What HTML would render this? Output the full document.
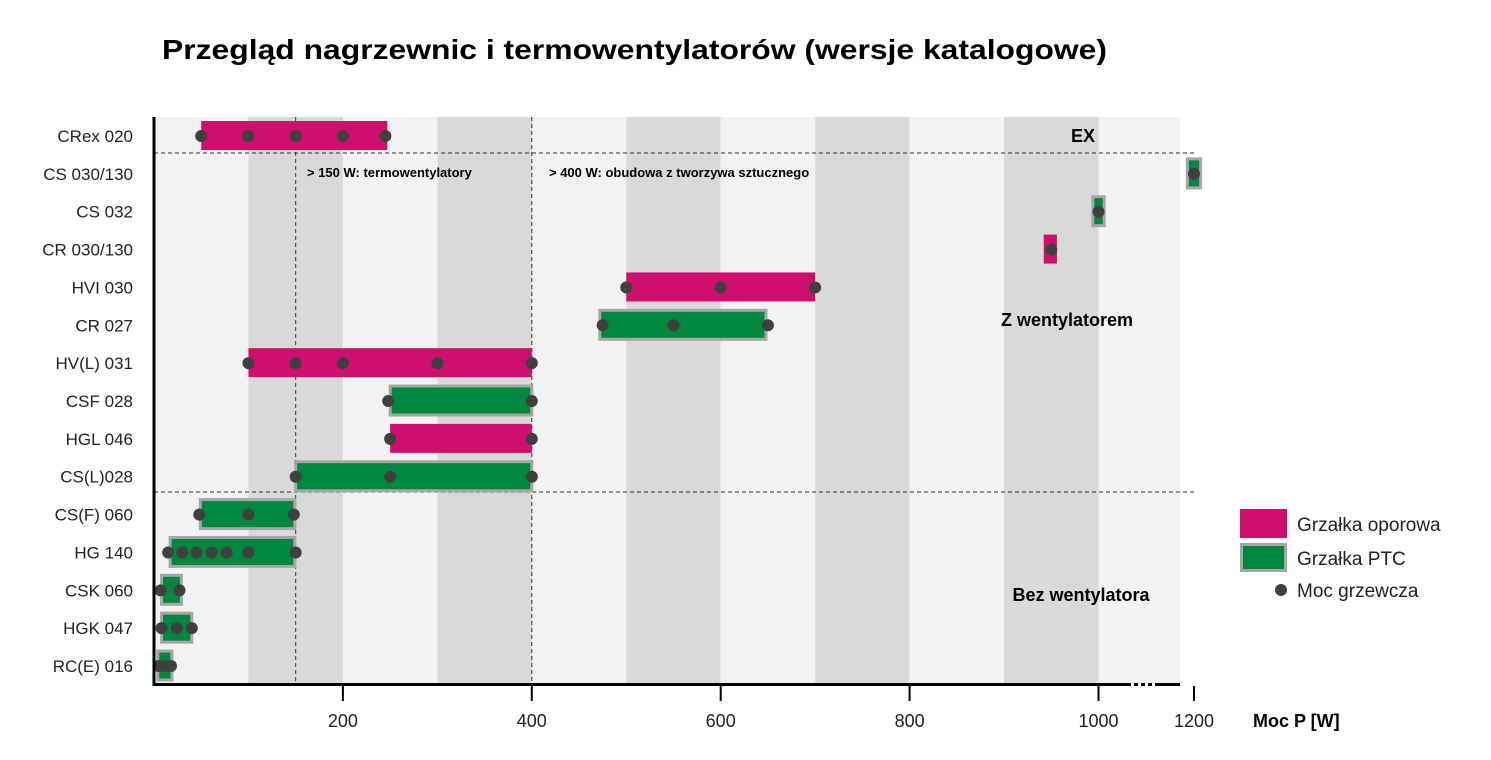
<!DOCTYPE html>
<html><head><meta charset="utf-8"><style>
body{margin:0;background:#fff;}
svg{display:block;font-family:"Liberation Sans",sans-serif;}
</style></head><body>
<svg id="c" width="1491" height="760" xmlns="http://www.w3.org/2000/svg">
<text x="162" y="59" font-size="28" font-weight="bold" textLength="945" lengthAdjust="spacingAndGlyphs">Przegląd nagrzewnic i termowentylatorów (wersje katalogowe)</text>
<g id="bands"></g><g id="grid"></g><g id="bars"></g><g id="axes"></g>
</svg>
<script>
const categories=["CRex 020","CS 030/130","CS 032","CR 030/130","HVI 030","CR 027","HV(L) 031","CSF 028","HGL 046","CS(L)028","CS(F) 060","HG 140","CSK 060","HGK 047","RC(E) 016"];
const heaterType=["oporowa","ptc","ptc","oporowa","oporowa","ptc","oporowa","ptc","oporowa","ptc","ptc","ptc","ptc","ptc","ptc"];
const barStart=[50,1193,994,942,500,472,100,250,250,150,49,17,8,8,4];
const barEnd=[247,1207,1006,956,700,648,400,400,400,400,149,149,29,40,19];
const powerPoints=[[50,100,150,200,245],[1200],[1000],[950],[500,600,700],[475,550,650],[100,150,200,300,400],[248,400],[250,400],[150,250,400],[48,100,148],[15,30,45,61,77,100,150],[7,27],[8,24,40],[5,12,18]];
const tickValues=[200,400,600,800,1000,1200];
const NS="http://www.w3.org/2000/svg";
const svg=document.getElementById('c');
function x(v){return v>1100?1194+(v-1200)*0.9445:154+v*0.9445;}
function y(i){return 136+i*37.86;}
function el(tag,attrs,parent){const e=document.createElementNS(NS,tag);for(const k in attrs)e.setAttribute(k,attrs[k]);(parent||svg).appendChild(e);return e;}
const bands=document.getElementById('bands');
for(let b=0;b<11;b++){const x0=x(b*100),x1=b==10?1180:x(b*100+100);
const r=el('rect',{x:x0,y:117,width:x1-x0,height:567,fill:b%2?'#d9d9d9':'#f2f2f2'},bands);

}
const grid=document.getElementById('grid');
[150,400].forEach(v=>{const l=el('line',{x1:x(v),x2:x(v),y1:117,y2:684,stroke:'#333','stroke-width':1,'stroke-dasharray':'4,3'},grid);
});
[153,492].forEach((yy,k)=>{const l=el('line',{x1:154,x2:1196,y1:yy,y2:yy,stroke:'#333','stroke-width':1,'stroke-dasharray':'4,3'},grid);
});
const bars=document.getElementById('bars');
categories.forEach((c,i)=>{
const t=el('text',{x:133,y:y(i)+6,'font-size':17,'text-anchor':'end',fill:'#222'});t.textContent=c;

const ptc=heaterType[i]=='ptc';
const r=el('rect',{x:x(barStart[i]),y:y(i)-15,width:x(barEnd[i])-x(barStart[i]),height:29,fill:ptc?'#00883f':'#cf0f6e',stroke:ptc?'#a6a6a6':'none','stroke-width':ptc?3:0},bars);

powerPoints[i].forEach(p=>{const d=el('circle',{cx:x(p),cy:y(i),r:6,fill:'#404040'},bars);
});
});
const ax=document.getElementById('axes');
el('line',{x1:154,x2:154,y1:117,y2:686,stroke:'#000','stroke-width':3},ax);
el('line',{x1:153,x2:1127,y1:684.5,y2:684.5,stroke:'#000','stroke-width':3},ax);
el('line',{x1:1127,x2:1156,y1:684.5,y2:684.5,stroke:'#000','stroke-width':3,'stroke-dasharray':'4,3'},ax);
el('line',{x1:1156,x2:1180,y1:684.5,y2:684.5,stroke:'#000','stroke-width':3},ax);
tickValues.forEach(v=>{const l=el('line',{x1:x(v),x2:x(v),y1:686,y2:701,stroke:'#000','stroke-width':2},ax);

const t=el('text',{x:x(v),y:727,'font-size':18,'text-anchor':'middle',fill:'#222'},ax);t.textContent=v;
});
function txt(s,xx,yy,fs,name,anchor){const t=el('text',{x:xx,y:yy,'font-size':fs,'font-weight':'bold','text-anchor':anchor||'start'},ax);t.textContent=s;
}
txt('Moc P [W]',1253,727,18,'x-axis-title');
txt('EX',1083,142,18,'group-label-ex','middle');
txt('> 150 W: termowentylatory',307,177,13,'annotation-150w');
txt('> 400 W: obudowa z tworzywa sztucznego',549,177,13,'annotation-400w');
txt('Z wentylatorem',1067,326,18,'group-label-z-wentylatorem','middle');
txt('Bez wentylatora',1081,601,18,'group-label-bez-wentylatora','middle');
const lg=el('g',{},svg);
el('rect',{x:1240,y:509,width:47,height:29,fill:'#cf0f6e'},lg);
el('rect',{x:1241.5,y:544.5,width:44,height:26,fill:'#00883f',stroke:'#a6a6a6','stroke-width':3},lg);
el('circle',{cx:1281,cy:590,r:6,fill:'#404040'},lg);
[['Grzałka oporowa',531],['Grzałka PTC',565],['Moc grzewcza',597]].forEach(a=>{const t=el('text',{x:1297,y:a[1],'font-size':19,fill:'#222'},lg);t.textContent=a[0];
});
</script>
</body></html>
